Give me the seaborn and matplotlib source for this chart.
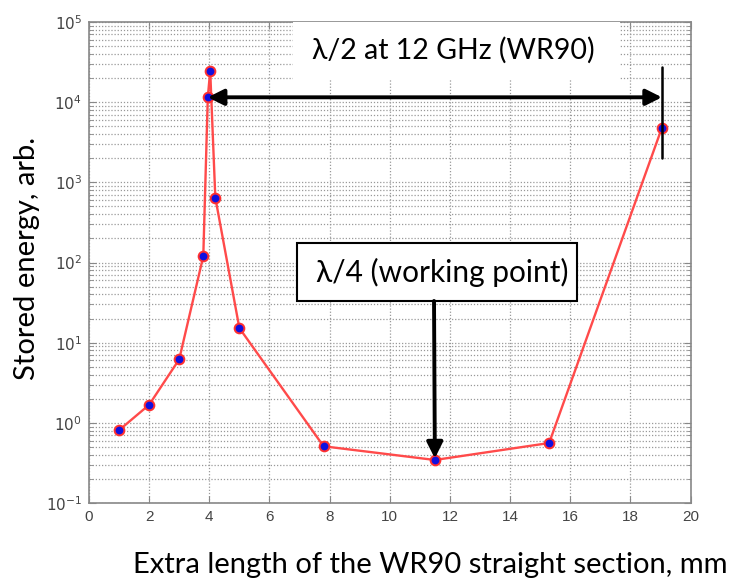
import matplotlib
matplotlib.use("Agg")
import matplotlib.pyplot as plt
import seaborn as sns
import numpy as np
import pandas as pd
from matplotlib.patches import Rectangle

# ---- data ----
extra_length_mm = [1.0, 2.0, 3.0, 3.8, 3.95, 4.03, 4.2, 5.0, 7.8, 11.5, 15.3, 19.05]
stored_energy = [0.81, 1.68, 6.2, 120, 11500, 24600, 645, 15.2, 0.51, 0.344, 0.56, 4800]
x_ticks = [0, 2, 4, 6, 8, 10, 12, 14, 16, 18, 20]
y_ticks = [1e-1, 1e0, 1e1, 1e2, 1e3, 1e4, 1e5]
y_ticklabels = [r"$10^{-1}$", r"$10^{0}$", r"$10^{1}$", r"$10^{2}$", r"$10^{3}$", r"$10^{4}$", r"$10^{5}$"]

label_half = "λ/2 at 12 GHz (WR90)"
label_quarter = "λ/4 (working point)"
xlabel = "Extra length of the WR90 straight section, mm"
ylabel = "Stored energy, arb."

df = pd.DataFrame({"x": extra_length_mm, "y": stored_energy})

sns.set_theme(style="white")
plt.rcParams["font.family"] = ["Liberation Sans", "DejaVu Sans"]

fig = plt.figure(figsize=(7.33, 5.81), dpi=100)
ax = fig.add_axes([89 / 733, 1 - 503 / 581, 601.5 / 733, 481 / 581])

sns.lineplot(data=df, x="x", y="y", ax=ax, sort=False, color="#ff4a4a", lw=1.7,
             marker="o", markersize=7, markerfacecolor="#1010e0",
             markeredgecolor="#ff3030", markeredgewidth=1.4)

ax.set_yscale("log")
ax.set_xlim(0, 20)
ax.set_ylim(1e-1, 1e5)
ax.set_xticks(x_ticks)
ax.set_xticklabels([str(t) for t in x_ticks])
ax.set_yticks(y_ticks)
ax.set_yticklabels(y_ticklabels)
ax.set_xlabel("")
ax.set_ylabel("")

ax.yaxis.set_minor_locator(matplotlib.ticker.LogLocator(base=10, subs=np.arange(2, 10)))
ax.yaxis.set_minor_formatter(matplotlib.ticker.NullFormatter())

ax.grid(True, which="major", axis="both", color="#999999", linestyle=(0, (1, 1.5)), lw=0.9)
ax.grid(True, which="minor", axis="y", color="#999999", linestyle=(0, (1, 1.5)), lw=0.9)
ax.set_axisbelow(True)

for s in ax.spines.values():
    s.set_color("#888888")
    s.set_linewidth(1.2)

ax.tick_params(axis="both", which="major", direction="in", length=5, width=0.8,
               colors="#888888", labelcolor="#444444", labelsize=11,
               top=True, right=True, bottom=True, left=True, pad=5)
ax.tick_params(axis="y", which="minor", direction="in", length=3, width=0.6,
               colors="#888888", left=True, right=True)

# white box behind the λ/2 label
ax.add_patch(Rectangle((0.339, 0.879), 0.544, 0.121, transform=ax.transAxes,
                       facecolor="white", edgecolor="none", zorder=3))
ax.text(0.605, 0.942, label_half, transform=ax.transAxes, ha="center", va="center",
        fontsize=20.5, family=["Lato", "DejaVu Sans"], color="black", zorder=4)

# double-headed arrow λ/2
ax.annotate("", xy=(19.05, 11500), xytext=(3.95, 11500),
            arrowprops=dict(arrowstyle="<|-|>", color="black", lw=2.8,
                            mutation_scale=24, shrinkA=0, shrinkB=0), zorder=5)
ax.plot([19.05, 19.05], [2040, 27500], color="black", lw=1.8, zorder=5)

# λ/4 box and arrow
ax.add_patch(Rectangle((0.345, 0.420), 0.467, 0.121, transform=ax.transAxes,
                       facecolor="white", edgecolor="black", lw=1.5, zorder=4))
ax.text(0.588, 0.480, label_quarter, transform=ax.transAxes, ha="center", va="center",
        fontsize=21.5, family=["Lato", "DejaVu Sans"], color="black", zorder=5)
ax.annotate("", xy=(11.5, 0.36), xycoords="data", xytext=(0.5736, 0.420),
            textcoords="axes fraction",
            arrowprops=dict(arrowstyle="-|>", color="black", lw=2.8,
                            mutation_scale=24, shrinkA=0, shrinkB=0), zorder=5)

fig.text(430 / 733, 1 - 565 / 581, xlabel, ha="center", va="center",
         fontsize=21, family=["Lato", "DejaVu Sans"], color="black")
fig.text(27 / 733, 1 - 258 / 581, ylabel, ha="center", va="center", rotation=90,
         fontsize=21, family=["Lato", "DejaVu Sans"], color="black")

fig.savefig("out.png", dpi=100, facecolor="white")
